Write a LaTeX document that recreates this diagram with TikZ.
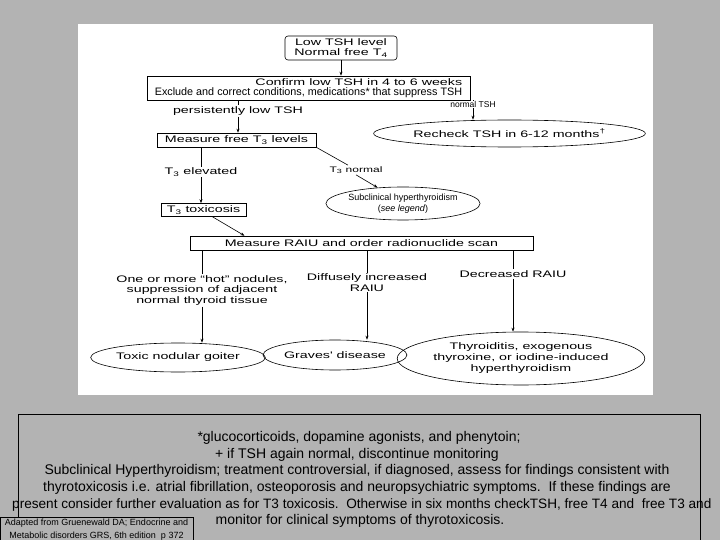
\documentclass[tikz,border=0pt]{standalone}
\usepackage{fontspec}
\setmainfont{Liberation Sans}
\newfontfamily\scanfont[FakeStretch=1.5]{Liberation Sans}
\usetikzlibrary{positioning,arrows.meta,shapes.geometric}
\definecolor{panelgray}{RGB}{179,179,179}

\begin{document}
\begin{tikzpicture}[x=1pt,y=-1pt,
  flowtext/.style={font=\scanfont\fontsize{9.5}{10.5}\selectfont},
  flowbox/.style={draw,flowtext,line width=0.6pt,inner sep=1pt,align=center},
  flowoval/.style={draw,ellipse,flowtext,line width=0.6pt,inner sep=0pt,align=center},
  flowlabel/.style={flowtext,inner sep=1pt,align=center},
  flowline/.style={line width=0.6pt},
  flowarrow/.style={line width=0.6pt,-{Stealth[length=4pt,width=3pt]}},
  notetext/.style={font=\fontsize{14}{16}\selectfont,anchor=base,inner sep=0pt}]
  \useasboundingbox (0,0) rectangle (720,540);
  \clip (0,0) rectangle (720,540);
  \fill[panelgray] (0,0) rectangle (720,540);
  \fill[white] (78,24) rectangle (653,395);

  % flowchart
  \node[flowbox,rounded corners=3pt,minimum width=112,minimum height=24] (lowtsh) at (341,48) {Low TSH level\\Normal free T\textsubscript{4}};
  \node[flowbox,align=right,minimum width=323,minimum height=24] (confirm) at (308.5,88)
    {Confirm low TSH in 4 to 6 weeks\\{\rmfamily\fontsize{10.8}{11}\selectfont Exclude and correct conditions, medications* that suppress TSH}};
  \node[flowlabel] (persist) at (238,111) {persistently low TSH};
  \node[flowlabel,font=\rmfamily\fontsize{8.5}{9}\selectfont] (normtsh) at (473,104) {normal TSH};
  \node[flowoval,minimum width=225,minimum height=27] (recheck) at (509.5,133.5) {Recheck TSH in 6-12 months\textsuperscript{†}};
  \node[flowbox,minimum width=159,minimum height=14] (measure) at (236.5,140) {Measure free T\textsubscript{3} levels};
  \node[flowlabel] (elev) at (201,172) {T\textsubscript{3} elevated};
  \node[flowbox,minimum width=85,minimum height=13] (tox) at (203.5,210) {T\textsubscript{3} toxicosis};
  \node[flowlabel,font=\scanfont\fontsize{8}{9}\selectfont] (t3norm) at (356,170) {T\textsubscript{3} normal};
  \node[flowoval,font=\rmfamily\fontsize{9}{10.5}\selectfont,minimum width=130,minimum height=33] (subclin) at (403,203.5)
    {Subclinical hyperthyroidism\\(\textit{see legend})};
  \node[flowbox,minimum width=343,minimum height=14] (raiu) at (361.5,243) {Measure RAIU and order radionuclide scan};
  \node[flowlabel] (hot) at (202,290.5) {One or more “hot” nodules,\\suppression of adjacent\\normal thyroid tissue};
  \node[flowlabel] (diff) at (367,282.5) {Diffusely increased\\RAIU};
  \node[flowlabel] (decr) at (513,274) {Decreased RAIU};
  \node[flowoval,minimum width=140,minimum height=29] (toxic) at (178,357.5) {Toxic nodular goiter};
  \node[flowoval,minimum width=140,minimum height=30] (graves) at (335,355) {Graves' disease};
  \node[flowoval,font=\scanfont\fontsize{9.5}{11}\selectfont,minimum width=203,minimum height=53] (thyr) at (521,358.5)
    {Thyroiditis, exogenous\\thyroxine, or iodine-induced\\hyperthyroidism};

  \draw[flowarrow] (lowtsh.south) -- (lowtsh.south |- confirm.north);
  \draw[flowline] (confirm.south -| persist) -- (persist.north);
  \draw[flowarrow] (persist.south) -- (persist.south |- measure.north);
  \draw[flowline] (confirm.south -| normtsh) -- (normtsh.north);
  \draw[flowarrow] (normtsh.south) -- (normtsh.south |- recheck.north);
  \draw[flowline] (measure.south -| elev) -- (elev.north);
  \draw[flowarrow] (elev.south) -- (elev.south |- tox.north);
  \draw[flowline] (measure.south east) -- ([xshift=-8]t3norm.north);
  \draw[flowarrow] (t3norm.south) -- (subclin.148);
  \draw[flowarrow] ([xshift=9]tox.south) -- ([xshift=-117]raiu.north);
  \draw[flowline] (raiu.south -| hot) -- (hot.north);
  \draw[flowarrow] (hot.south) -- (hot.south |- toxic.north);
  \draw[flowline] (raiu.south -| diff) -- (diff.north);
  \draw[flowarrow] (diff.south) -- (diff.south |- graves.north);
  \draw[flowline] (raiu.south -| decr) -- (decr.north);
  \draw[flowarrow] (decr.south) -- (decr.south |- thyr.north);

  % legend text
  \draw[line width=0.8pt] (18,414) rectangle (700,560);
  \node[notetext] (note1) at (359,441.7) {*glucocorticoids, dopamine agonists, and phenytoin;};
  \node[notetext] (note2) at (357,458.3) {+ if TSH again normal, discontinue monitoring};
  \node[notetext] (note3) at (357,474.9) {Subclinical Hyperthyroidism; treatment controversial, if diagnosed, assess for findings consistent with};
  \node[notetext] (note4) at (357,491.5) {thyrotoxicosis i.e. atrial fibrillation, osteoporosis and neuropsychiatric symptoms.\ \ If these findings are};
  \node[notetext,anchor=base west,font=\fontsize{13.6}{16}\selectfont] (note5) at (12,508.1) {present consider further evaluation as for T3 toxicosis.\ \ Otherwise in six months checkTSH, free T4 and\ \ free T3 and};
  \node[notetext] (note6) at (360,524.7) {monitor for clinical symptoms of thyrotoxicosis.};

  \draw[fill=panelgray,line width=0.8pt] (0.5,517) rectangle (193,560);
  \node[font=\fontsize{9}{12.5}\selectfont,align=center,inner sep=0pt] (source) at (96.5,529.5)
    {Adapted from Gruenewald DA; Endocrine and\\Metabolic disorders GRS, 6th edition\ \ p 372};
\end{tikzpicture}
\end{document}
